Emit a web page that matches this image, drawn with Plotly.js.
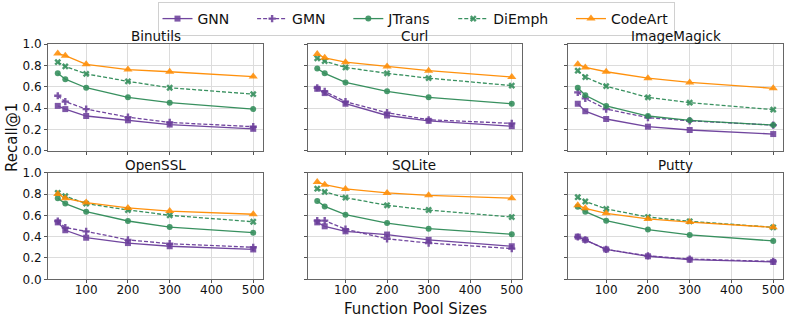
<!DOCTYPE html>
<html>
<head>
<meta charset="utf-8">
<script src="https://cdn.plot.ly/plotly-3.0.1.min.js"></script>
<style>html,body{margin:0;padding:0;background:#fff}#chart{width:789px;height:320px}</style>
</head>
<body>
<div id="chart"></div>
<script>
const poolSizes = [32, 50, 100, 200, 300, 500];
const projects = ["Binutils", "Curl", "ImageMagick", "OpenSSL", "SQLite", "Putty"];
const methods = ["GNN", "GMN", "JTrans", "DiEmph", "CodeArt"];

const GNN = {
  Binutils:    [0.42, 0.39, 0.325, 0.285, 0.245, 0.205],
  Curl:        [0.58, 0.54, 0.44, 0.33, 0.28, 0.23],
  ImageMagick: [0.44, 0.37, 0.297, 0.225, 0.194, 0.156],
  OpenSSL:     [0.534, 0.46, 0.39, 0.34, 0.31, 0.28],
  SQLite:      [0.534, 0.497, 0.45, 0.42, 0.37, 0.31],
  Putty:       [0.40, 0.37, 0.28, 0.216, 0.184, 0.163]
};
const GMN = {
  Binutils:    [0.515, 0.46, 0.39, 0.315, 0.265, 0.225],
  Curl:        [0.59, 0.556, 0.46, 0.356, 0.29, 0.256],
  ImageMagick: [0.547, 0.49, 0.39, 0.31, 0.28, 0.24],
  OpenSSL:     [0.547, 0.485, 0.45, 0.37, 0.334, 0.30],
  SQLite:      [0.55, 0.55, 0.47, 0.38, 0.34, 0.288],
  Putty:       [0.397, 0.369, 0.28, 0.22, 0.19, 0.168]
};
const JTrans = {
  Binutils:    [0.725, 0.67, 0.59, 0.50, 0.45, 0.39],
  Curl:        [0.77, 0.725, 0.64, 0.556, 0.50, 0.44],
  ImageMagick: [0.59, 0.52, 0.42, 0.325, 0.285, 0.24],
  OpenSSL:     [0.76, 0.71, 0.634, 0.547, 0.49, 0.4375],
  SQLite:      [0.734, 0.684, 0.606, 0.528, 0.475, 0.422],
  Putty:       [0.68, 0.634, 0.55, 0.466, 0.416, 0.36]
};
const DiEmph = {
  Binutils:    [0.83, 0.79, 0.72, 0.65, 0.59, 0.53],
  Curl:        [0.866, 0.84, 0.78, 0.725, 0.68, 0.61],
  ImageMagick: [0.75, 0.69, 0.605, 0.50, 0.45, 0.385],
  OpenSSL:     [0.81, 0.78, 0.71, 0.65, 0.60, 0.54],
  SQLite:      [0.85, 0.82, 0.766, 0.694, 0.65, 0.584],
  Putty:       [0.77, 0.73, 0.66, 0.584, 0.544, 0.4875]
};
const CodeArt = {
  Binutils:    [0.91, 0.89, 0.81, 0.76, 0.74, 0.695],
  Curl:        [0.906, 0.87, 0.83, 0.79, 0.75, 0.69],
  ImageMagick: [0.81, 0.78, 0.74, 0.68, 0.64, 0.585],
  OpenSSL:     [0.80, 0.76, 0.72, 0.67, 0.64, 0.61],
  SQLite:      [0.9125, 0.8875, 0.8475, 0.81, 0.7875, 0.76],
  Putty:       [0.694, 0.666, 0.619, 0.566, 0.537, 0.4875]
};
const xTicks = [100, 200, 300, 400, 500];
const yTicks = [0, 0.2, 0.4, 0.6, 0.8, 1.0];

const seriesData = {GNN, GMN, JTrans, DiEmph, CodeArt};
const purple = "#6a3d9a", green = "#2e8b57", orange = "#ff8c00";
const styles = {
  GNN:     {color: purple, dash: "solid", symbol: "square", size: 6},
  GMN:     {color: purple, dash: "dash", symbol: "cross", size: 6},
  JTrans:  {color: green, dash: "solid", symbol: "circle", size: 6},
  DiEmph:  {color: green, dash: "dash", symbol: "x", size: 6},
  CodeArt: {color: orange, dash: "solid", symbol: "triangle-up", size: 8}
};

const W = 789, H = 320;
const colPx = [[48, 263], [307.5, 521.5], [568, 783]];
const rowPx = [[44, 150.7], [172.7, 279.3]];
const pad = n => "\u00a0".repeat(n);

const traces = [];
const layout = {
  width: W, height: H,
  margin: {l: 0, r: 0, t: 0, b: 0},
  paper_bgcolor: "#fff", plot_bgcolor: "#fff",
  font: {family: "DejaVu Sans, sans-serif", size: 11, color: "#111"},
  showlegend: true,
  legend: {
    orientation: "h", x: 416 / W, xanchor: "center", y: 1 - 2 / H, yanchor: "top",
    bordercolor: "#d0d0d0", borderwidth: 1, bgcolor: "#fff",
    font: {size: 14, family: "DejaVu Sans, sans-serif"},
    itemwidth: 30, tracegroupgap: 0
  },
  annotations: []
};

projects.forEach((p, i) => {
  const r = Math.floor(i / 3), c = i % 3;
  const ax = i === 0 ? "" : String(i + 1);
  const xd = [colPx[c][0] / W, colPx[c][1] / W];
  const yd = [1 - rowPx[r][1] / H, 1 - rowPx[r][0] / H];
  layout["xaxis" + ax] = {
    domain: xd, anchor: "y" + ax, range: [8.6, 523.4],
    tickvals: xTicks, showticklabels: r === 1,
    ticks: "outside", ticklen: 3, tickcolor: "#555",
    ticklabelstandoff: -4,
    showgrid: true, gridcolor: "#dcdcdc", gridwidth: 1,
    showline: true, linecolor: "#666", linewidth: 1, mirror: true,
    zeroline: false, tickfont: {size: 12}
  };
  layout["yaxis" + ax] = {
    domain: yd, anchor: "x" + ax, range: [0, 1.0],
    tickvals: yTicks, tickformat: ".1f", showticklabels: c === 0,
    ticks: "outside", ticklen: 3, tickcolor: "#555",
    showgrid: true, gridcolor: "#dcdcdc", gridwidth: 1,
    showline: true, linecolor: "#666", linewidth: 1, mirror: true,
    zeroline: false, tickfont: {size: 12}
  };
  layout.annotations.push({
    text: p, xref: "paper", yref: "paper",
    x: (xd[0] + xd[1]) / 2, y: yd[1], xanchor: "center", yanchor: "bottom",
    yshift: -2, showarrow: false, font: {size: 13.5}
  });
  methods.forEach((m, k) => {
    const s = styles[m];
    traces.push({
      type: "scatter", mode: "lines+markers",
      x: poolSizes, y: seriesData[m][p],
      xaxis: "x" + ax, yaxis: "y" + ax,
      name: k < methods.length - 1 ? m + pad(4) : m,
      legendgroup: m, showlegend: i === 0,
      line: {color: s.color, dash: s.dash === "dash" ? "4px,2px" : "solid", width: 1.3},
      marker: {color: s.color, symbol: s.symbol, size: s.size, opacity: 0.9},
      opacity: 0.95
    });
  });
});

layout.annotations.push({
  text: "Recall@1", xref: "paper", yref: "paper", x: 12 / W, y: 1 - 138 / H,
  xanchor: "center", yanchor: "middle", textangle: -90, showarrow: false,
  font: {size: 15}
});
layout.annotations.push({
  text: "Function Pool Sizes", xref: "paper", yref: "paper", x: 415 / W, y: 1 - 309 / H,
  xanchor: "center", yanchor: "middle", showarrow: false, font: {size: 15}
});

Plotly.newPlot("chart", traces, layout, {displayModeBar: false, staticPlot: true});
</script>
</body>
</html>
